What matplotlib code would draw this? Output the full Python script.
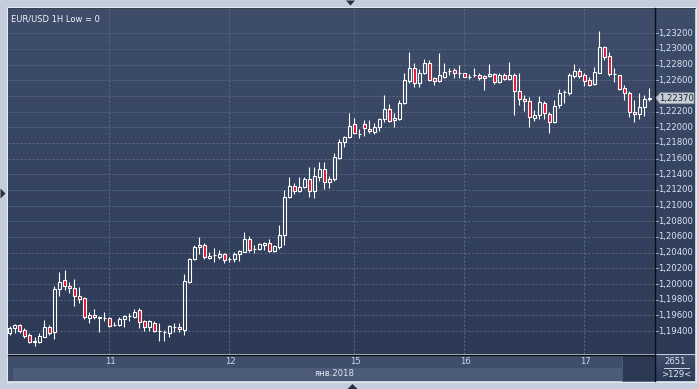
import matplotlib
matplotlib.use('Agg')
import matplotlib.pyplot as plt
import numpy as np
from matplotlib.patches import Rectangle, Polygon
from matplotlib.lines import Line2D
from matplotlib.colors import LinearSegmentedColormap
from matplotlib.transforms import blended_transform_factory

# ---------------- data ----------------
opens = [1.19371, 1.19438, 1.19480, 1.19413, 1.19349, 1.19272, 1.19263, 1.19327, 1.19447, 1.19394,
         1.19936, 1.20051, 1.19970, 1.19945, 1.19843, 1.19821, 1.19562, 1.19604, 1.19577, 1.19561,
         1.19562, 1.19479, 1.19480, 1.19549, 1.19594, 1.19582, 1.19668, 1.19528, 1.19455, 1.19506,
         1.19405, 1.19385, 1.19371, 1.19446, 1.19457, 1.19413, 1.20029, 1.20315, 1.20468, 1.20494,
         1.20335, 1.20372, 1.20348, 1.20379, 1.20314, 1.20319, 1.20379, 1.20412, 1.20574, 1.20449,
         1.20450, 1.20497, 1.20519, 1.20425, 1.20468, 1.20621, 1.21106, 1.21246, 1.21183, 1.21241,
         1.21336, 1.21190, 1.21369, 1.21471, 1.21297, 1.21336, 1.21607, 1.21808, 1.21872, 1.22037,
         1.21916, 1.22037, 1.21974, 1.21943, 1.21999, 1.22101, 1.22229, 1.22090, 1.22109, 1.22313,
         1.22594, 1.22752, 1.22561, 1.22696, 1.22824, 1.22624, 1.22594, 1.22645, 1.22720, 1.22730,
         1.22695, 1.22688, 1.22639, 1.22665, 1.22667, 1.22654, 1.22654, 1.22679, 1.22573, 1.22664,
         1.22622, 1.22667, 1.22459, 1.22360, 1.22331, 1.22122, 1.22152, 1.22305, 1.22165, 1.22071,
         1.22280, 1.22445, 1.22433, 1.22658, 1.22718, 1.22663, 1.22603, 1.22552, 1.22696, 1.23020,
         1.22909, 1.22674, 1.22667, 1.22497, 1.22433, 1.22191, 1.22165, 1.22254, 1.22360]
highs = [1.19464, 1.19489, 1.19496, 1.19438, 1.19374, 1.19320, 1.19378, 1.19540, 1.19473, 1.19974,
         1.20153, 1.20178, 1.20025, 1.20064, 1.19961, 1.19834, 1.19646, 1.19677, 1.19591, 1.19646,
         1.19579, 1.19519, 1.19575, 1.19604, 1.19626, 1.19677, 1.19690, 1.19540, 1.19540, 1.19528,
         1.19498, 1.19413, 1.19477, 1.19498, 1.19498, 1.20127, 1.20335, 1.20497, 1.20596, 1.20519,
         1.20412, 1.20463, 1.20434, 1.20399, 1.20348, 1.20404, 1.20434, 1.20659, 1.20616, 1.20497,
         1.20523, 1.20539, 1.20574, 1.20501, 1.20753, 1.21199, 1.21361, 1.21285, 1.21361, 1.21369,
         1.21489, 1.21489, 1.21556, 1.21556, 1.21378, 1.21675, 1.21854, 1.21892, 1.22186, 1.22114,
         1.21974, 1.22092, 1.22092, 1.22050, 1.22114, 1.22411, 1.22297, 1.22182, 1.22344, 1.22696,
         1.22956, 1.22824, 1.22739, 1.22867, 1.22858, 1.22645, 1.22944, 1.22824, 1.22760, 1.22752,
         1.22794, 1.22696, 1.22679, 1.22752, 1.22696, 1.22667, 1.22807, 1.22696, 1.22696, 1.22696,
         1.22829, 1.22692, 1.22688, 1.22418, 1.22386, 1.22226, 1.22399, 1.22335, 1.22198, 1.22348,
         1.22488, 1.22475, 1.22696, 1.22807, 1.22752, 1.22688, 1.22637, 1.22772, 1.23228, 1.23040,
         1.22964, 1.22752, 1.22673, 1.22539, 1.22466, 1.22348, 1.22433, 1.22411, 1.22497]
lows = [1.19349, 1.19378, 1.19374, 1.19311, 1.19243, 1.19212, 1.19243, 1.19320, 1.19349, 1.19294,
        1.19850, 1.19923, 1.19885, 1.19723, 1.19757, 1.19553, 1.19498, 1.19553, 1.19391, 1.19531,
        1.19451, 1.19464, 1.19464, 1.19455, 1.19531, 1.19562, 1.19442, 1.19400, 1.19404, 1.19391,
        1.19276, 1.19276, 1.19320, 1.19383, 1.19391, 1.19349, 1.20009, 1.20306, 1.20379, 1.20315,
        1.20315, 1.20284, 1.20319, 1.20264, 1.20284, 1.20277, 1.20297, 1.20404, 1.20412, 1.20399,
        1.20434, 1.20434, 1.20412, 1.20404, 1.20446, 1.20497, 1.21093, 1.21148, 1.21177, 1.21221,
        1.21114, 1.21101, 1.21318, 1.21212, 1.21225, 1.21318, 1.21595, 1.21752, 1.21859, 1.21910,
        1.21859, 1.21892, 1.21923, 1.21910, 1.21956, 1.22071, 1.22067, 1.22007, 1.22092, 1.22297,
        1.22561, 1.22510, 1.22510, 1.22679, 1.22594, 1.22539, 1.22581, 1.22624, 1.22667, 1.22624,
        1.22632, 1.22637, 1.22612, 1.22645, 1.22603, 1.22475, 1.22645, 1.22548, 1.22564, 1.22603,
        1.22603, 1.22152, 1.22284, 1.22207, 1.22007, 1.22080, 1.22101, 1.22101, 1.21930, 1.22058,
        1.22249, 1.22313, 1.22411, 1.22624, 1.22624, 1.22530, 1.22526, 1.22539, 1.22688, 1.22858,
        1.22658, 1.22581, 1.22475, 1.22348, 1.22134, 1.22071, 1.22101, 1.22147, 1.22335]
closes = [1.19434, 1.19473, 1.19404, 1.19340, 1.19263, 1.19265, 1.19336, 1.19447, 1.19371, 1.19932,
          1.20029, 1.19974, 1.19945, 1.19850, 1.19812, 1.19579, 1.19604, 1.19575, 1.19572, 1.19563,
          1.19464, 1.19482, 1.19549, 1.19591, 1.19597, 1.19646, 1.19519, 1.19455, 1.19528, 1.19404,
          1.19403, 1.19382, 1.19464, 1.19448, 1.19422, 1.20038, 1.20315, 1.20476, 1.20494, 1.20340,
          1.20361, 1.20375, 1.20383, 1.20302, 1.20316, 1.20379, 1.20421, 1.20574, 1.20437, 1.20451,
          1.20510, 1.20523, 1.20427, 1.20485, 1.20621, 1.21106, 1.21246, 1.21183, 1.21234, 1.21336,
          1.21190, 1.21378, 1.21471, 1.21297, 1.21336, 1.21616, 1.21808, 1.21872, 1.22016, 1.21923,
          1.21919, 1.21986, 1.21948, 1.21999, 1.22101, 1.22229, 1.22086, 1.22115, 1.22305, 1.22603,
          1.22752, 1.22561, 1.22688, 1.22824, 1.22603, 1.22594, 1.22663, 1.22709, 1.22723, 1.22688,
          1.22697, 1.22645, 1.22636, 1.22668, 1.22624, 1.22624, 1.22679, 1.22573, 1.22667, 1.22622,
          1.22664, 1.22466, 1.22357, 1.22331, 1.22127, 1.22152, 1.22318, 1.22178, 1.22071, 1.22277,
          1.22433, 1.22447, 1.22667, 1.22721, 1.22658, 1.22594, 1.22539, 1.22701, 1.23020, 1.22892,
          1.22675, 1.22677, 1.22484, 1.22433, 1.22191, 1.22165, 1.22254, 1.22357, 1.22370]

day_labels = ['11', '12', '15', '16', '17']
day_index = [20, 44, 69, 91, 115]
price_levels = [1.194, 1.196, 1.198, 1.200, 1.202, 1.204, 1.206, 1.208, 1.210, 1.212,
                1.214, 1.216, 1.218, 1.220, 1.222, 1.224, 1.226, 1.228, 1.230, 1.232]
last_price = 1.22370
title = 'EUR/USD 1H Low = 0'
month_label = 'янв.2018'
bar_count_label = '2651'
visible_label = '>129<'

# ---------------- figure ----------------
W, H = 698, 389
fig = plt.figure(figsize=(W / 100, H / 100), dpi=100)
fig.patch.set_facecolor('#c3cddb')

def fr(x0, y0, x1, y1):
    return [x0 / W, 1 - y1 / H, (x1 - x0) / W, (y1 - y0) / H]

def fx(px):
    return px / W

def fy(py):
    return 1 - py / H

PX = 0.72
FONT = 'DejaVu Sans'
FS = 6.1
TOP_C, BOT_C = '#3e4d6a', '#2c3a56'
grad_cmap = LinearSegmentedColormap.from_list('g', [BOT_C, TOP_C])

def grad_axes(rect):
    a = fig.add_axes(rect, zorder=0)
    a.imshow(np.linspace(0, 1, 256).reshape(-1, 1), cmap=grad_cmap, origin='lower',
             aspect='auto', extent=[0, 1, 0, 1])
    a.set_axis_off()
    return a

# background panels
grad_axes(fr(8, 8, 695, 354.5))
grad_axes(fr(655, 354.5, 695, 381))
fig.patches.append(Rectangle((fx(8), fy(368)), (655 - 8) / W, 13.5 / H, transform=fig.transFigure,
                             facecolor='#3f4f6b', edgecolor='none', zorder=1))
fig.patches.append(Rectangle((fx(8), fy(381)), (655 - 8) / W, 13 / H, transform=fig.transFigure,
                             facecolor='#3f4f6b', edgecolor='none', zorder=1))
fig.patches.append(Rectangle((fx(13), fy(381)), (622 - 13) / W, 13 / H, transform=fig.transFigure,
                             facecolor='#4c5b78', edgecolor='none', zorder=1))
fig.patches.append(Rectangle((fx(622), fy(381)), (655 - 622) / W, 26.5 / H, transform=fig.transFigure,
                             facecolor='#2b3954', edgecolor='#56647c', lw=0.5, zorder=1))

# main axes
ax = fig.add_axes(fr(8, 8, 654.5, 354), zorder=2)
ax.patch.set_alpha(0)
ax.set_xlim(-0.3, 129.0)
ax.set_ylim(1.19107, 1.23522)
ax.set_axis_off()

GRID = '#596988'
for p in price_levels:
    ax.axhline(p, color=GRID, lw=PX, ls=(0, (2, 2)), zorder=1)
for d in day_index:
    ax.axvline(d - 0.1, color=GRID, lw=PX, ls=(0, (2, 2)), zorder=1)

RED = '#e3122f'
bw = 0.66
for i, (o, h, l, c) in enumerate(zip(opens, highs, lows, closes)):
    top, bot = max(o, c), min(o, c)
    ax.plot([i, i], [top, h], color='white', lw=PX * 1.1, zorder=3, solid_capstyle='butt')
    ax.plot([i, i], [l, bot], color='white', lw=PX * 1.1, zorder=3, solid_capstyle='butt')
    face = RED if c < o else 'none'
    ax.add_patch(Rectangle((i - bw / 2, bot), bw, top - bot, facecolor=face,
                           edgecolor='white', lw=PX * 1.1, zorder=4))

ax.text(0.004, 0.982, title, transform=ax.transAxes, ha='left', va='top',
        color='#f2f4f8', fontsize=6.0, family=FONT, zorder=6)

# frame lines
def fline(x0, y0, x1, y1, color, lw=PX, z=5):
    fig.add_artist(Line2D([fx(x0), fx(x1)], [fy(y0), fy(y1)], transform=fig.transFigure,
                          color=color, lw=lw, zorder=z))

fline(7.5, 7.5, 7.5, 381.5, '#38404c')
fline(7.5, 7.5, 695.5, 7.5, '#38404c')
fline(6.5, 6.5, 6.5, 382, '#e4e9ef')
fline(6.5, 6.5, 696, 6.5, '#e4e9ef')
fline(7.5, 381.5, 696, 381.5, '#e4e9ef')
fline(8, 354.5, 655, 354.5, '#0a0e16', lw=PX * 1.4)
fline(654.8, 8, 654.8, 381, '#0a0e16', lw=PX * 1.4)
fline(695.5, 7.5, 695.5, 381.5, '#e4e9ef')

# price axis labels (the level hidden behind the current-price marker is skipped)
tr = blended_transform_factory(fig.transFigure, ax.transData)
for p in price_levels:
    fig.add_artist(Line2D([fx(655.5), fx(658)], [p, p], transform=tr, color='#8fa8d0',
                          lw=PX, zorder=6))
    if abs(p - last_price) < 0.0006:
        continue
    fig.text(fx(658.5), p, f'{p:.5f}'.replace('.', ','), transform=tr, ha='left', va='center',
             color='#dbe4f2', fontsize=FS, family=FONT, zorder=6)

# current price marker
fig.canvas.draw()
yd = ax.transData.transform((0, last_price))[1]
ypx = H - yd
pts = [(656, ypx), (660, ypx - 5.5), (694, ypx - 5.5), (694, ypx + 5.5), (660, ypx + 5.5)]
fig.patches.append(Polygon([(fx(x), fy(y)) for x, y in pts], closed=True, transform=fig.transFigure,
                           facecolor='#c9ced6', edgecolor='#8a93a2', lw=0.5, zorder=7))
fig.text(fx(676.5), last_price, f'{last_price:.5f}'.replace('.', ','), transform=tr, ha='center',
         va='center', color='#1a2030', fontsize=FS, family=FONT, zorder=8)

# date labels
trx = blended_transform_factory(ax.transData, fig.transFigure)
for d, lab in zip(day_index, day_labels):
    fig.text(d + 0.1, fy(361.5), lab, transform=trx, ha='center', va='center',
             color='#c8d8f0', fontsize=FS, family=FONT, zorder=6)
fig.text(fx(335), fy(373.5), month_label, ha='center', va='center', color='#dfe6f0',
         fontsize=FS, family=FONT, zorder=6)

# bottom right counters
fig.text(fx(675), fy(361), bar_count_label, ha='center', va='center', color='#dfe6f0',
         fontsize=FS, family=FONT, zorder=6)
fline(664, 367.5, 689, 367.5, '#c8d0dc')
fig.text(fx(676), fy(374.5), visible_label, ha='center', va='center', color='#dfe6f0',
         fontsize=FS, family=FONT, zorder=6)

# navigation triangles
def tri(pts, color='#26303e'):
    fig.patches.append(Polygon([(fx(x), fy(y)) for x, y in pts], closed=True,
                               transform=fig.transFigure, facecolor=color, edgecolor='none', zorder=8))

tri([(346, 0.5), (355, 0.5), (350.5, 5.5)])
tri([(347.5, 389), (357.5, 389), (352.5, 384)])
tri([(0.5, 188.5), (0.5, 198.5), (5.5, 193.5)])

fig.savefig('out.png', dpi=100, facecolor=fig.get_facecolor())
